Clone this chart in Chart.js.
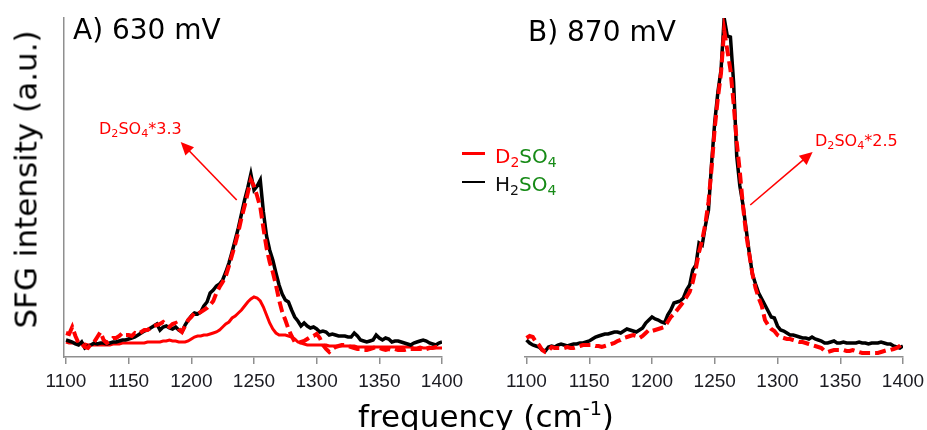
<!DOCTYPE html>
<html>
<head>
<meta charset="utf-8">
<script src="https://cdn.jsdelivr.net/npm/chart.js@4/dist/chart.umd.min.js"></script>
<style>
  html, body { margin: 0; padding: 0; background: #fff; }
  #wrap { position: relative; width: 927px; height: 430px; overflow: hidden; background: #fff;
          font-family: "DejaVu Sans", Verdana, sans-serif; }
  canvas { position: absolute; top: 0; }
  .txt { position: absolute; white-space: nowrap; line-height: 1; }
  .sub { font-size: 0.7em; position: relative; top: 0.28em; }
  .sup { font-size: 0.62em; position: relative; top: -0.62em; }
  .red { color: #ff0000; }
  .grn { color: #168a16; }
  .blk { color: #111; }
</style>
</head>
<body>
<div id="wrap">
  <canvas id="panelA" width="500" height="430" style="left:0"></canvas>
  <canvas id="panelB" width="507" height="430" style="left:460px"></canvas>

  <div class="txt" style="left:73px; top:16px; font-size:28px; color:#000;">A) 630 mV</div>
  <div class="txt" style="left:528px; top:18px; font-size:28px; color:#000;">B) 870 mV</div>

  <div class="txt red" style="left:99px; top:121px; font-size:16px;">D<span class="sub">2</span>SO<span class="sub">4</span>*3.3</div>
  <div class="txt red" style="left:815px; top:133px; font-size:16px;">D<span class="sub">2</span>SO<span class="sub">4</span>*2.5</div>

  <div style="position:absolute; left:462px; top:152px; width:23px; height:2.5px; background:#ff0000;"></div>
  <div class="txt" style="left:495px; top:146px; font-size:20px;"><span class="red">D<span class="sub">2</span></span><span class="grn">SO<span class="sub">4</span></span></div>
  <div style="position:absolute; left:462px; top:180.5px; width:23px; height:2.5px; background:#000;"></div>
  <div class="txt" style="left:495px; top:174px; font-size:20px;"><span class="blk">H<span class="sub">2</span></span><span class="grn">SO<span class="sub">4</span></span></div>

  <div class="txt" style="left:-174px; top:164px; width:400px; height:31px; font-size:31px; text-align:center; color:#000; transform:rotate(-90deg);">SFG intensity (a.u.)</div>
  <div class="txt" style="left:286px; top:401px; width:400px; font-size:31px; text-align:center; color:#000;">frequency (cm<span class="sup">-1</span>)</div>
</div>

<script>
// Sampling grid of the SFG spectra, cm^-1
const frequency = [
  1100,1102.5,1105,1107.5,1110,1112.5,1115,1117.5,
  1120,1122.5,1125,1127.5,1130,1132.5,1135,1137.5,
  1140,1142.5,1145,1147.5,1150,1152.5,1155,1157.5,
  1160,1162.5,1165,1167.5,1170,1172.5,1175,1177.5,
  1180,1182.5,1185,1187.5,1190,1192.5,1195,1197.5,
  1200,1202.5,1205,1207.5,1210,1212.5,1215,1217.5,
  1220,1222.5,1225,1227.5,1230,1232.5,1235,1237.5,
  1240,1242.5,1245,1247.5,1250,1252.5,1255,1257.5,
  1260,1262.5,1265,1267.5,1270,1272.5,1275,1277.5,
  1280,1282.5,1285,1287.5,1290,1292.5,1295,1297.5,
  1300,1302.5,1305,1307.5,1310,1312.5,1315,1317.5,
  1320,1322.5,1325,1327.5,1330,1332.5,1335,1337.5,
  1340,1342.5,1345,1347.5,1350,1352.5,1355,1357.5,
  1360,1362.5,1365,1367.5,1370,1372.5,1375,1377.5,
  1380,1382.5,1385,1387.5,1390,1392.5,1395,1397.5,
  1400
];

// Axis tick labels
const freqTicks = [1100, 1150, 1200, 1250, 1300, 1350, 1400];

// A) 630 mV, H2SO4
const h2so4_630 = [
  0.08,0.07,0.06,0.04,0.03,0.06,0.00,0.02,
  0.03,0.05,0.04,0.05,0.05,0.04,0.05,0.06,
  0.06,0.07,0.08,0.08,0.09,0.10,0.11,0.13,
  0.15,0.17,0.18,0.20,0.22,0.24,0.18,0.21,
  0.22,0.20,0.19,0.21,0.18,0.16,0.23,0.28,
  0.32,0.35,0.34,0.36,0.42,0.46,0.55,0.58,
  0.62,0.64,0.68,0.76,0.85,0.96,1.08,1.20,
  1.34,1.48,1.60,1.74,1.58,1.62,1.68,1.36,
  1.12,0.98,0.88,0.75,0.63,0.54,0.48,0.46,
  0.38,0.31,0.27,0.22,0.25,0.22,0.20,0.21,
  0.19,0.16,0.17,0.16,0.13,0.14,0.13,0.12,
  0.12,0.12,0.11,0.11,0.15,0.12,0.08,0.07,
  0.06,0.07,0.08,0.13,0.10,0.08,0.10,0.09,
  0.06,0.07,0.07,0.06,0.05,0.04,0.03,0.05,
  0.06,0.07,0.08,0.07,0.05,0.04,0.03,0.05,
  0.06
];

// A) 630 mV, D2SO4 as measured
const d2so4_630 = [
  0.06,0.05,0.05,0.05,0.05,0.04,0.04,0.03,
  0.03,0.03,0.03,0.03,0.03,0.03,0.03,0.04,
  0.04,0.04,0.05,0.05,0.05,0.05,0.05,0.05,
  0.05,0.05,0.06,0.06,0.06,0.06,0.06,0.07,
  0.07,0.08,0.07,0.07,0.06,0.06,0.06,0.07,
  0.09,0.11,0.12,0.12,0.13,0.13,0.14,0.15,
  0.16,0.18,0.21,0.24,0.26,0.30,0.32,0.35,
  0.38,0.42,0.46,0.49,0.51,0.50,0.47,0.41,
  0.33,0.25,0.19,0.15,0.13,0.13,0.13,0.12,
  0.11,0.09,0.06,0.05,0.04,0.03,0.03,0.03,
  0.03,0.03,0.03,0.03,0.02,0.02,0.02,0.02,
  0.02,0.02,0.02,0.02,0.02,0.01,0.01,0.01,
  0.01,0.01,0.01,0.01,0.01,0.01,0.01,0.01,
  0.01,0.01,0.01,0.01,0.01,0.01,0.01,0.00,
  0.00,0.01,0.00,0.00,0.01,0.00,0.00,0.00,
  0.00
];

// A) 630 mV, D2SO4 scaled by 3.3
const d2so4x33_630 = [
  0.15,0.14,0.21,0.12,0.05,0.04,0.01,0.00,
  0.04,0.06,0.11,0.16,0.08,0.05,0.07,0.10,
  0.10,0.12,0.15,0.13,0.13,0.12,0.15,0.14,
  0.16,0.18,0.18,0.20,0.22,0.23,0.24,0.26,
  0.23,0.21,0.24,0.25,0.19,0.16,0.22,0.28,
  0.31,0.35,0.34,0.36,0.38,0.40,0.43,0.47,
  0.55,0.61,0.66,0.72,0.82,0.93,1.04,1.16,
  1.30,1.42,1.55,1.68,1.62,1.52,1.41,1.20,
  1.00,0.86,0.76,0.63,0.48,0.36,0.28,0.19,
  0.12,0.06,0.05,0.06,0.07,0.09,0.11,0.12,
  0.14,0.10,0.03,-0.01,-0.04,-0.01,0.01,0.02,
  0.03,0.03,0.02,0.01,0.00,-0.01,-0.01,-0.02,
  -0.02,-0.01,0.00,0.01,0.00,-0.01,-0.02,-0.01,
  -0.02,-0.01,-0.02,-0.02,-0.02,-0.01,-0.01,-0.01,
  -0.01,-0.01,0.00,-0.01,0.00,0.00,0.01,0.01,
  0.01
];

// B) 870 mV, H2SO4
const h2so4_870 = [
  0.08,0.05,0.03,0.02,0.01,-0.02,-0.03,0.01,
  0.02,0.01,0.03,0.04,0.03,0.02,0.03,0.04,
  0.04,0.05,0.05,0.06,0.07,0.09,0.11,0.12,
  0.13,0.14,0.14,0.15,0.16,0.16,0.15,0.17,
  0.19,0.18,0.17,0.16,0.18,0.20,0.25,0.28,
  0.31,0.29,0.28,0.26,0.25,0.33,0.38,0.45,
  0.46,0.47,0.50,0.58,0.63,0.78,0.83,1.05,
  1.03,1.22,1.38,1.85,2.26,2.56,2.78,3.30,
  3.12,3.11,2.66,1.92,1.62,1.43,1.19,0.95,
  0.74,0.64,0.55,0.49,0.43,0.37,0.31,0.30,
  0.22,0.18,0.17,0.15,0.13,0.13,0.12,0.11,
  0.10,0.10,0.09,0.11,0.09,0.08,0.07,0.05,
  0.05,0.06,0.07,0.05,0.05,0.06,0.05,0.05,
  0.05,0.05,0.06,0.05,0.05,0.04,0.05,0.05,
  0.05,0.06,0.05,0.04,0.04,0.02,0.01,0.00,
  0.02
];

// B) 870 mV, D2SO4 scaled by 2.5
const d2so4x25_870 = [
  0.10,0.12,0.11,0.06,0.03,-0.02,-0.04,-0.03,
  0.01,0.00,0.00,0.00,0.00,0.01,0.00,0.00,
  0.01,0.02,0.03,0.03,0.03,0.03,0.02,0.02,
  0.01,0.02,0.03,0.04,0.05,0.07,0.08,0.10,
  0.11,0.12,0.13,0.12,0.10,0.12,0.15,0.18,
  0.17,0.18,0.19,0.20,0.21,0.26,0.31,0.34,
  0.38,0.42,0.46,0.51,0.56,0.66,0.80,0.96,
  1.08,1.24,1.46,1.80,2.20,2.50,2.75,3.18,
  2.98,2.78,2.45,2.06,1.76,1.42,1.14,0.94,
  0.74,0.60,0.50,0.42,0.28,0.23,0.19,0.17,
  0.13,0.11,0.10,0.09,0.09,0.08,0.07,0.06,
  0.06,0.05,0.04,0.03,0.02,0.01,0.00,-0.03,
  -0.04,-0.03,-0.02,-0.02,-0.02,-0.02,-0.03,-0.03,
  -0.02,-0.03,-0.04,-0.05,-0.05,-0.05,-0.05,-0.05,
  -0.05,-0.04,-0.03,-0.02,-0.02,-0.01,0.00,0.02,
  0.05
];

// Annotation arrows (tail -> head) in data coordinates
const arrowA = { from: [1236.2, 1.48], to: [1191.5, 2.06] };
const arrowB = { from: [1278.3, 1.43], to: [1328.0, 1.96] };

const RED = '#ff0000';
const AXIS_GREY = '#8f8f8f';

function series(values) {
  return frequency.map((f, i) => ({ x: f, y: values[i] }));
}

const arrowPlugin = {
  id: 'arrow',
  afterDatasetsDraw(chart, args, opts) {
    const a = opts.arrow;
    if (!a) return;
    const xs = chart.scales.x, ys = chart.scales.y;
    const x1 = xs.getPixelForValue(a.from[0]), y1 = ys.getPixelForValue(a.from[1]);
    const x2 = xs.getPixelForValue(a.to[0]), y2 = ys.getPixelForValue(a.to[1]);
    const ang = Math.atan2(y2 - y1, x2 - x1);
    const head = 13, half = 6;
    const ctx = chart.ctx;
    ctx.save();
    ctx.strokeStyle = RED;
    ctx.fillStyle = RED;
    ctx.lineWidth = 1.6;
    ctx.beginPath();
    ctx.moveTo(x1, y1);
    ctx.lineTo(x2 - Math.cos(ang) * head * 0.8, y2 - Math.sin(ang) * head * 0.8);
    ctx.stroke();
    ctx.beginPath();
    ctx.moveTo(x2, y2);
    ctx.lineTo(x2 - Math.cos(ang) * head - Math.sin(ang) * half, y2 - Math.sin(ang) * head + Math.cos(ang) * half);
    ctx.lineTo(x2 - Math.cos(ang) * head + Math.sin(ang) * half, y2 - Math.sin(ang) * head - Math.cos(ang) * half);
    ctx.closePath();
    ctx.fill();
    ctx.restore();
  }
};

function makePanel(canvasId, datasets, padding, showYAxis, arrow) {
  return new Chart(document.getElementById(canvasId), {
    type: 'line',
    data: { datasets },
    plugins: [arrowPlugin],
    options: {
      responsive: false,
      animation: false,
      devicePixelRatio: 1,
      layout: { padding },
      elements: { point: { radius: 0 }, line: { tension: 0 } },
      plugins: {
        legend: { display: false },
        tooltip: { enabled: false },
        arrow: { arrow }
      },
      scales: {
        x: {
          type: 'linear',
          min: 1098.4,
          max: 1400,
          afterBuildTicks(scale) { scale.ticks = freqTicks.map(v => ({ value: v })); },
          afterFit(scale) { scale.height = 73; },
          border: { display: true, color: AXIS_GREY, width: 1.5 },
          grid: { display: true, drawOnChartArea: false, drawTicks: true, tickLength: 7, color: AXIS_GREY, lineWidth: 1.5 },
          ticks: {
            color: '#1c1c22',
            padding: 6,
            maxRotation: 0,
            autoSkip: false,
            font: { family: '"Liberation Sans Narrow", "Liberation Sans", Arial, sans-serif', size: 19 },
            callback: v => String(v)
          }
        },
        y: {
          display: showYAxis,
          min: -0.09,
          max: 3.30,
          afterFit(scale) { scale.width = 0; },
          border: { display: true, color: AXIS_GREY, width: 1.5 },
          grid: { display: false },
          ticks: { display: false }
        }
      }
    }
  });
}

makePanel('panelA', [
  { data: series(d2so4x33_630), borderColor: RED, borderWidth: 4, borderDash: [11, 5] },
  { data: series(h2so4_630), borderColor: '#000', borderWidth: 3.5 },
  { data: series(d2so4_630), borderColor: RED, borderWidth: 3 }
], { left: 64, top: 18, right: 58, bottom: 0 }, true, arrowA);

makePanel('panelB', [
  { data: series(d2so4x25_870), borderColor: RED, borderWidth: 4, borderDash: [11, 5] },
  { data: series(h2so4_870), borderColor: '#000', borderWidth: 3.5 }
], { left: 64.5, top: 18, right: 64, bottom: 0 }, false, arrowB);
</script>
</body>
</html>
